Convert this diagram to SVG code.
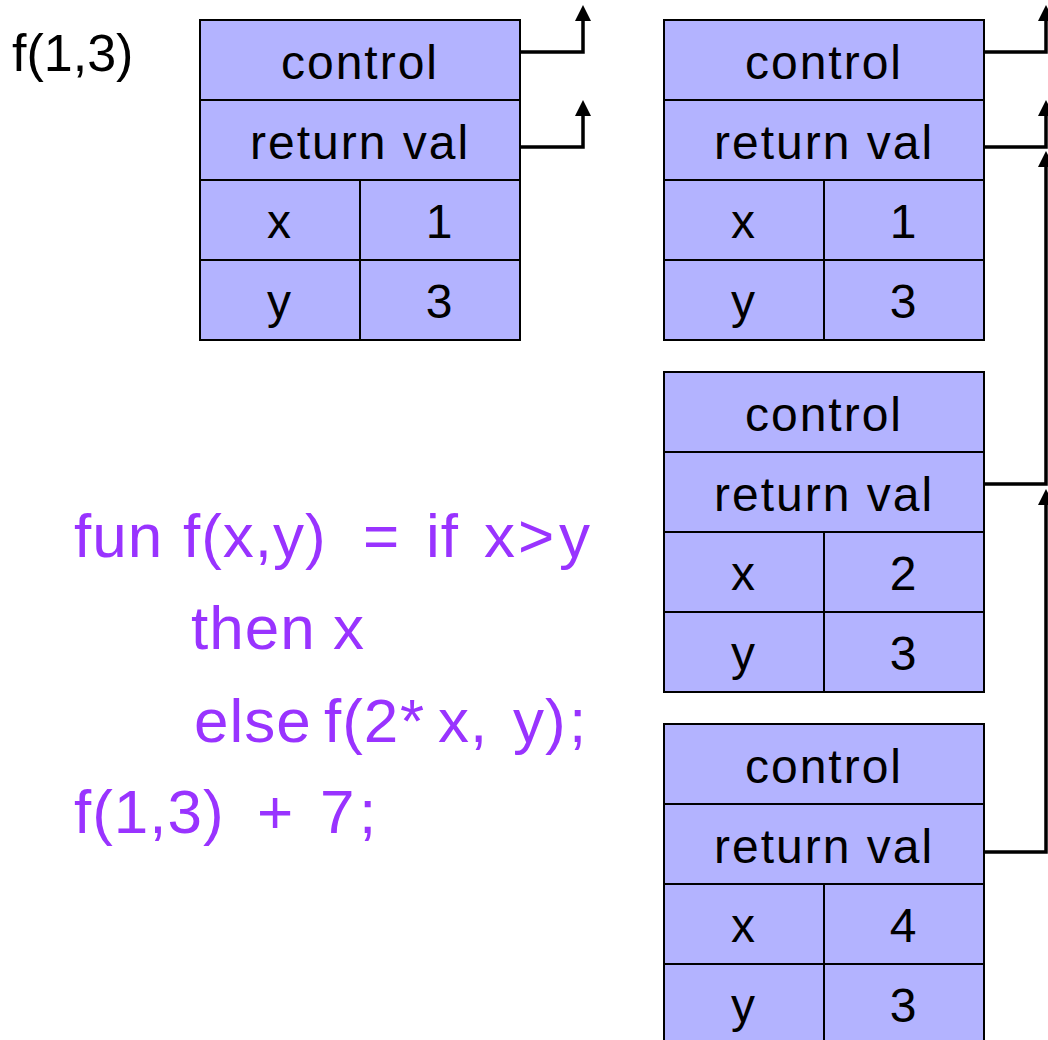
<svg xmlns="http://www.w3.org/2000/svg" width="1048" height="1040" viewBox="0 0 1048 1040">
<style>
.cell{fill:#B3B3FF;stroke:#000;stroke-width:2}
.lbl{font-family:"Liberation Sans",Arial,sans-serif;font-size:48px;letter-spacing:2px;fill:#000;text-anchor:middle}
.code{font-family:"Liberation Sans",Arial,sans-serif;font-size:62px;letter-spacing:1px;fill:#9933FF}
.conn{fill:none;stroke:#000;stroke-width:3.5}
</style>
<defs>
<marker id="ah" viewBox="0 0 16 16" refX="0" refY="8" markerWidth="16" markerHeight="16" markerUnits="userSpaceOnUse" orient="auto">
<path d="M0,0 L16,8 L0,16 z" fill="#000"/>
</marker>
<g id="frame">
<rect class="cell" x="0" y="0" width="320" height="80"/>
<rect class="cell" x="0" y="80" width="320" height="80"/>
<rect class="cell" x="0" y="160" width="160" height="80"/>
<rect class="cell" x="160" y="160" width="160" height="80"/>
<rect class="cell" x="0" y="240" width="160" height="80"/>
<rect class="cell" x="160" y="240" width="160" height="80"/>
<text class="lbl" x="160" y="59">control</text>
<text class="lbl" x="160" y="139">return val</text>
<text class="lbl" x="80" y="218">x</text>
<text class="lbl" x="80" y="298">y</text>
</g>
</defs>

<text id="call" x="12" y="71" font-family="Liberation Sans, Arial, sans-serif" font-size="52" fill="#000">f(1,3)</text>

<g id="frame1" transform="translate(200,20)">
<use href="#frame"/>
<text class="lbl" x="240" y="218">1</text>
<text class="lbl" x="240" y="298">3</text>
</g>
<g id="frame2" transform="translate(664,20)">
<use href="#frame"/>
<text class="lbl" x="240" y="218">1</text>
<text class="lbl" x="240" y="298">3</text>
</g>
<g id="frame3" transform="translate(664,372)">
<use href="#frame"/>
<text class="lbl" x="240" y="218">2</text>
<text class="lbl" x="240" y="298">3</text>
</g>
<g id="frame4" transform="translate(664,724)">
<use href="#frame"/>
<text class="lbl" x="240" y="218">4</text>
<text class="lbl" x="240" y="298">3</text>
</g>

<g id="code">
<text class="code" y="557"><tspan x="74">fun</tspan><tspan x="183">f(x,y)</tspan><tspan x="363">=</tspan><tspan x="426">if</tspan><tspan x="484">x</tspan><tspan x="518">&gt;</tspan><tspan x="559">y</tspan></text>
<text class="code" y="649"><tspan x="191">then</tspan><tspan x="333">x</tspan></text>
<text class="code" y="742"><tspan x="194">else</tspan><tspan x="324">f(2</tspan><tspan x="400">*</tspan><tspan x="438">x,</tspan><tspan x="513">y)</tspan><tspan x="569">;</tspan></text>
<text class="code" y="833"><tspan x="74">f(1,3)</tspan><tspan x="257">+</tspan><tspan x="320">7</tspan><tspan x="359">;</tspan></text>
</g>

<g id="connectors">
<path class="conn" d="M520,52 H583 V21" marker-end="url(#ah)"/>
<path class="conn" d="M520,147 H583 V116" marker-end="url(#ah)"/>
<path class="conn" d="M984,52 H1046 V21" marker-end="url(#ah)"/>
<path class="conn" d="M984,147 H1046 V116" marker-end="url(#ah)"/>
<path class="conn" d="M984,484 H1046 V167" marker-end="url(#ah)"/>
<path class="conn" d="M984,852 H1046 V505" marker-end="url(#ah)"/>
</g>
</svg>
